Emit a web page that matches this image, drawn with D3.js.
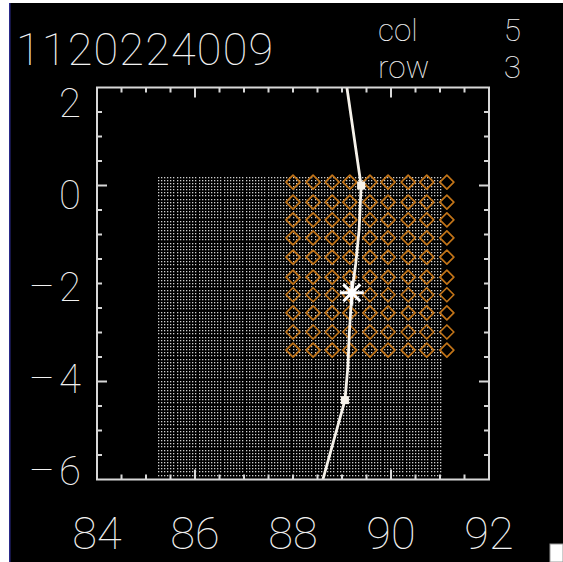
<!DOCTYPE html>
<html>
<head>
<meta charset="utf-8">
<script src="https://cdn.jsdelivr.net/npm/d3@7"></script>
<style>
  body { margin: 0; background: #ffffff; }
  svg { display: block; }
</style>
</head>
<body>
<div id="chart"></div>
<script>
// ---- data ----
var title = "1120224009";
var infoLabels = ["col", "row"];
var infoValues = [5, 3];

var xTickLabels = [84, 86, 88, 90, 92];
var yTickLabels = [2, 0, -2, -4, -6];
var xMajor = [86, 90];
var yMajor = [0, -4];

// track line
var trackX = [89.10, 89.39, 89.35, 89.28, 89.20, 89.15, 89.12, 89.06, 88.61];
var trackY = [2.00, 0.00, -0.90, -1.60, -2.19, -3.00, -3.70, -4.38, -6.00];
var markX = [89.39, 89.06];
var markY = [0.00, -4.38];
var starX = [89.20];
var starY = [-2.19];

// orange diamond grid (column / row positions)
var diamondCols = [88.00, 88.41, 88.80, 89.16, 89.57, 89.94, 90.35, 90.73, 91.14];
var diamondRows = [0.07, -0.34, -0.70, -1.07, -1.46, -1.87, -2.23, -2.60, -2.99, -3.36];

// fine dot grid extent
var dotXRange = [85.24, 91.04];
var dotYRange = [-5.90, 0.24];
var dotStep = 0.064;

// ---- layout ----
var W = 563, H = 562;
var svg = d3.select("#chart").append("svg")
    .attr("width", W)
    .attr("height", H);

// white page edge + black canvas
svg.append("rect").attr("x", 0).attr("y", 0).attr("width", W).attr("height", H).attr("fill", "#ffffff");
svg.append("rect").attr("x", 10).attr("y", 3).attr("width", W - 10).attr("height", H - 3).attr("fill", "#000000");
svg.append("rect").attr("x", 9).attr("y", 3).attr("width", 1.5).attr("height", H - 3).attr("fill", "#2a2a8a");
svg.append("rect").attr("x", 550).attr("y", 544).attr("width", 13).attr("height", 18)
  .attr("fill", "#ffffff").attr("stroke", "#9a9a9a").attr("stroke-width", 1);

var x = d3.scaleLinear().domain([84, 92]).range([97, 489]);
var y = d3.scaleLinear().domain([-6, 2]).range([479.5, 87.5]);
var yLab = d3.scaleLinear().domain([2, -6]).range([103, 471]);

var font = "Roboto, 'DejaVu Sans', sans-serif";
var ink = "#f2f2f2";

svg.append("clipPath").attr("id", "plotclip")
  .append("rect")
    .attr("x", x(84)).attr("y", y(2))
    .attr("width", x(92) - x(84)).attr("height", y(-6) - y(2));

var plot = svg.append("g").attr("clip-path", "url(#plotclip)");

// fine dot grid
var dots = [];
d3.range(dotXRange[0], dotXRange[1] + 1e-6, dotStep).forEach(function(dx) {
  d3.range(dotYRange[0], dotYRange[1] + 1e-6, dotStep).forEach(function(dy) {
    dots.push([dx, dy]);
  });
});
plot.append("g").selectAll("rect")
  .data(dots)
  .enter().append("rect")
    .attr("x", d => Math.round(x(d[0])))
    .attr("y", d => Math.round(y(d[1])))
    .attr("width", 1.3)
    .attr("height", 1.3)
    .attr("fill", "#cfcfcf");

// orange diamonds
var diamonds = [];
diamondRows.forEach(function(r) {
  diamondCols.forEach(function(c) { diamonds.push([c, r]); });
});
var dR = 7;
plot.append("g").selectAll("path")
  .data(diamonds)
  .enter().append("path")
    .attr("d", function(d) {
      var cx = x(d[0]), cy = y(d[1]);
      return "M" + cx + "," + (cy - dR) + "L" + (cx + dR) + "," + cy +
             "L" + cx + "," + (cy + dR) + "L" + (cx - dR) + "," + cy + "Z";
    })
    .attr("fill", "none")
    .attr("stroke", "#c27418")
    .attr("stroke-width", 1.7)
    .attr("stroke-linejoin", "round");

// track line
var trackPts = trackX.map((v, i) => [v, trackY[i]]);
plot.append("path")
  .datum(trackPts)
  .attr("d", d3.line().x(d => x(d[0])).y(d => y(d[1])))
  .attr("fill", "none")
  .attr("stroke", "#f6f2ea")
  .attr("stroke-width", 2.8)
  .attr("stroke-linejoin", "round");

plot.append("g").selectAll("rect")
  .data(markX.map((v, i) => [v, markY[i]]))
  .enter().append("rect")
    .attr("x", d => x(d[0]) - 4)
    .attr("y", d => y(d[1]) - 4)
    .attr("width", 8).attr("height", 8)
    .attr("fill", "#f6f2ea");

// star marker
var sR = 12;
plot.append("g").selectAll("path")
  .data(starX.map((v, i) => [v, starY[i]]))
  .enter().append("path")
    .attr("d", function(d) {
      var cx = x(d[0]), cy = y(d[1]), p = "";
      [0, 45, 90, 135].forEach(function(a) {
        var r = a * Math.PI / 180, ux = Math.cos(r) * sR, uy = Math.sin(r) * sR;
        p += "M" + (cx - ux) + "," + (cy - uy) + "L" + (cx + ux) + "," + (cy + uy);
      });
      return p;
    })
    .attr("stroke", "#ffffff")
    .attr("stroke-width", 3);

// frame
svg.append("rect")
  .attr("x", x(84)).attr("y", y(2))
  .attr("width", x(92) - x(84)).attr("height", y(-6) - y(2))
  .attr("fill", "none")
  .attr("stroke", "#d8d8d8")
  .attr("stroke-width", 2);

// ticks (inward, on all four sides)
var xt = d3.range(84.5, 92, 0.5), yt = d3.range(-5.5, 2, 0.5);
var tickG = svg.append("g").attr("stroke", "#d8d8d8").attr("stroke-width", 2);
xt.forEach(function(v) {
  var len = xMajor.indexOf(v) >= 0 ? 10 : 5;
  tickG.append("line").attr("x1", x(v)).attr("x2", x(v)).attr("y1", y(-6)).attr("y2", y(-6) - len);
  tickG.append("line").attr("x1", x(v)).attr("x2", x(v)).attr("y1", y(2)).attr("y2", y(2) + len);
});
yt.forEach(function(v) {
  var len = yMajor.indexOf(v) >= 0 ? 10 : 5;
  tickG.append("line").attr("y1", y(v)).attr("y2", y(v)).attr("x1", x(84)).attr("x2", x(84) + len);
  tickG.append("line").attr("y1", y(v)).attr("y2", y(v)).attr("x1", x(92)).attr("x2", x(92) - len);
});

// tick labels
svg.append("g").selectAll("text")
  .data(xTickLabels)
  .enter().append("text")
    .attr("x", d => x(d))
    .attr("y", 549)
    .attr("text-anchor", "middle")
    .style("font-family", font)
    .style("font-weight", 100)
    .style("font-size", "45px")
    .attr("fill", ink)
    .text(d => d);

var yl = svg.append("g").selectAll("text")
  .data(yTickLabels)
  .enter().append("text")
    .attr("x", 81)
    .attr("y", d => yLab(d) + 14)
    .attr("text-anchor", "end")
    .style("font-family", font)
    .style("font-weight", 100)
    .style("font-size", "40px")
    .attr("fill", ink);
yl.filter(d => d < 0).append("tspan")
    .style("font-size", "30px")
    .attr("dy", -5)
    .text("\u2014");
yl.append("tspan")
    .attr("dx", d => d < 0 ? 6 : 0)
    .attr("dy", d => d < 0 ? 5 : 0)
    .text(d => Math.abs(d));

// title and col/row info
svg.append("text")
  .attr("x", 16).attr("y", 65)
  .style("font-family", font).style("font-weight", 100).style("font-size", "45px")
  .style("letter-spacing", "1.2px")
  .attr("fill", ink)
  .text(title);

var info = svg.append("g");
infoLabels.forEach(function(lbl, i) {
  info.append("text")
    .attr("x", 378).attr("y", 40.5 + i * 37)
    .style("font-family", font).style("font-weight", 100).style("font-size", "31.5px")
    .attr("fill", ink).text(lbl);
  info.append("text")
    .attr("x", 521).attr("y", 40.5 + i * 37)
    .attr("text-anchor", "end")
    .style("font-family", font).style("font-weight", 100).style("font-size", "31.5px")
    .attr("fill", ink).text(infoValues[i]);
});
</script>
</body>
</html>
